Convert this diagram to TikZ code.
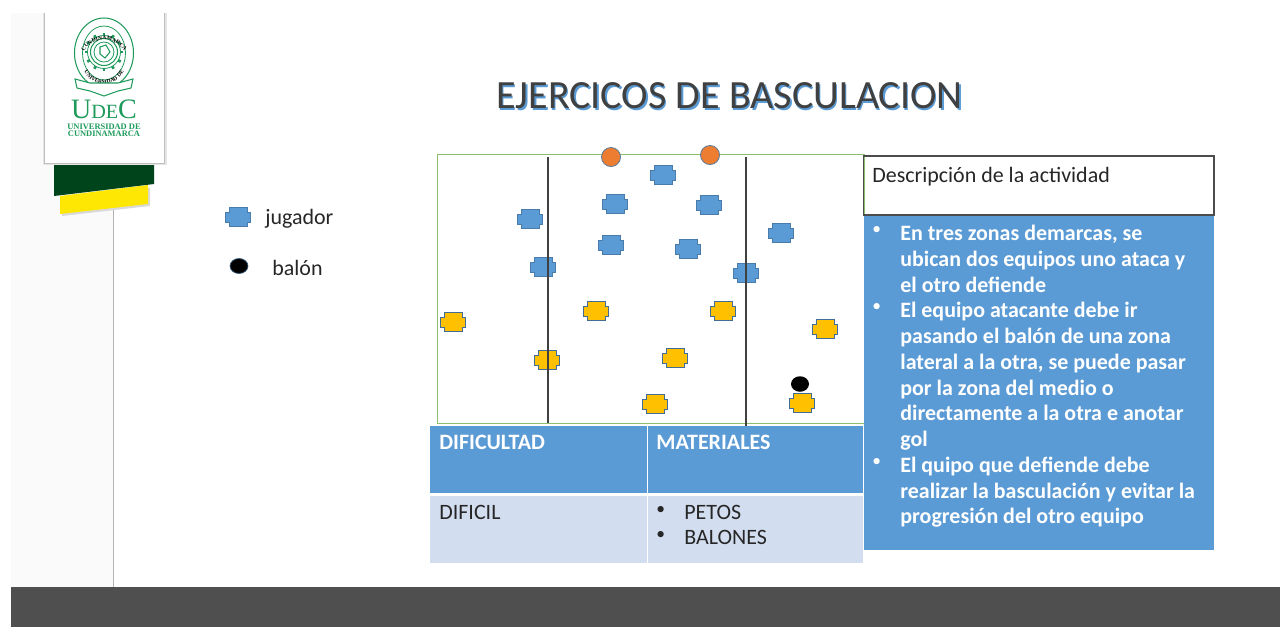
\documentclass[tikz,border=0pt]{standalone}
\usepackage{fontspec}
\setmainfont{Carlito}
\newfontfamily\logofont{Liberation Serif}
\usetikzlibrary{decorations.text,shapes.geometric}
\definecolor{azul}{HTML}{5B9BD5}
\definecolor{azulclaro}{HTML}{D2DEEF}
\definecolor{amarillo}{HTML}{FFC000}
\definecolor{naranja}{HTML}{ED7D31}
\definecolor{verdelogo}{HTML}{1E9A5A}
\definecolor{verdeoscuro}{HTML}{00441C}
\definecolor{verdecampo}{HTML}{8CBF6A}
\tikzset{
    ficha/.pic={\path[pic actions] (-12.5,-5) -- (-9,-5) -- (-9,-9.5) -- (9,-9.5) -- (9,-5) -- (12.5,-5) -- (12.5,5) -- (9,5) -- (9,9.5) -- (-9,9.5) -- (-9,5) -- (-12.5,5) -- cycle;},
    fichaazul/.style={fill=azul,draw=azul!80!black,line width=0.3pt},
    fichaamarilla/.style={fill=amarillo,draw=azul!70!black,line width=0.3pt},
    portero/.style={circle,fill=naranja,draw=azul!60!black!80,line width=0.5pt,minimum size=19*0.02cm,inner sep=0pt},
    texto/.style={anchor=west,inner sep=0pt,font=\fontsize{12.5}{14}\selectfont,text=black!85},
    titulotabla/.style={anchor=north west,inner sep=0pt,font=\fontsize{12.5}{14}\selectfont\bfseries,text=white},
    celda/.style={anchor=north west,inner sep=0pt,font=\fontsize{12.5}{14.2}\selectfont,text=black!85,align=left},
    marca/.style={anchor=north west,inner sep=0pt,align=left,font=\fontsize{10}{14.65}\selectfont},
    zona/.style={line width=0.6pt,black!75},
}
\begin{document}
\begin{tikzpicture}[x=0.02cm,y=-0.02cm]
    \useasboundingbox (0,0) rectangle (1280,627);
    % background
    \fill[black!2] (11,13) rectangle (113,587);
    \draw[black!30,line width=0.5pt] (113.5,205) -- (113.5,587);
    \fill[black!69] (11,587) rectangle (1280,627);
    % ribbons of the logo
    \fill[black!15] (62,198) -- (150,188) -- (150,206) -- (62,216) -- cycle;
    \fill[yellow!90!orange] (60,196) -- (148,185) -- (148,204) -- (60,214) -- cycle;
    \fill[verdeoscuro] (54,163) -- (154,163) -- (154,184) -- (54,196) -- cycle;
    % white card of the logo
    \fill[black!10] (42.5,13) rectangle (166.5,165);
    \fill[black!25] (44,13) rectangle (165,163.5);
    \fill[white] (45,13) rectangle (164,162.5);
    % seal
    \begin{scope}[verdelogo,line width=0.45pt]
        \draw[line width=0.6pt] (104,53) ellipse (29.5 and 35);
        \draw (104,53) ellipse (21.5 and 27);
        \draw[line width=0.6pt] (104,52) circle (13.5);
        \draw (104,52) circle (10);
        \draw (104,52) circle (16.5);
        \foreach \ang in {0,30,...,330}
            \draw[line width=1.5pt] (104,52) ++(\ang:16.5) -- ++(\ang:2.8);
        \draw[line width=0.6pt] (100,47) -- (106,45) -- (110,52) -- (105,58) -- (100,54) -- cycle;
        \path[decorate,decoration={text along path,text align=center,
            text={|\logofont\fontsize{3.2}{3.4}\selectfont\bfseries|UNIVERSIDAD DE}}]
            (79,53) arc[start angle=180,end angle=0,x radius=25,y radius=31];
        \path[decorate,decoration={text along path,text align=center,
            text={|\logofont\fontsize{3.2}{3.4}\selectfont\bfseries|CUNDINAMARCA}}]
            (81,62) arc[start angle=180,end angle=360,x radius=23,y radius=22];
        \filldraw[fill=white,line width=0.6pt] (75,79) -- (90,83) -- (118,83) -- (133,79) -- (131,88) -- (118,91) -- (104,96) -- (90,91) -- (77,88) -- cycle;
    \end{scope}
    \node[inner sep=0pt,text=verdelogo,font=\logofont\fontsize{16}{17}\selectfont] (udec) at (104,109.5) {U{\fontsize{11.5}{12}\selectfont DE}C};
    \node[inner sep=0pt,text=verdelogo,align=center,font=\logofont\fontsize{4.8}{4.1}\selectfont\bfseries] (nombre) at (104,130.5) {UNIVERSIDAD DE\\CUNDINAMARCA};
    % title
    \node[inner sep=0pt,text=azul,font=\fontsize{22.8}{26}\selectfont] (sombra) at (731,97.5) {EJERCICOS DE BASCULACION};
    \node[inner sep=0pt,text=black!75,font=\fontsize{22.8}{26}\selectfont] (titulo) at (729.5,96) {EJERCICOS DE BASCULACION};
    % legend
    \pic[fichaazul] at (238,217) {ficha};
    \node[texto] (jugador) at (265,218.5) {jugador};
    \node[ellipse,fill=black,draw=azul!60!black,line width=0.4pt,minimum width=18*0.02cm,minimum height=15*0.02cm,inner sep=0pt] (leyendabalon) at (239,266) {};
    \node[texto] (balon) at (272,267.5) {balón};
    % field
    \draw[verdecampo,line width=0.5pt] (437,154) rectangle (864,423);
    % players
    \foreach \px/\py in {663/175,615/204,709/205,530/219,781/233,611/245,688/249,543/267,746/273}
        \pic[fichaazul] at (\px,\py) {ficha};
    \foreach \px/\py in {453/322,596/311,723/311,825/329,547/360,675/358,655/404,802/403}
        \pic[fichaamarilla] at (\px,\py) {ficha};
    \node[portero] (portero1) at (611,157) {};
    \node[portero] (portero2) at (710,155) {};
    \node[ellipse,fill=black,minimum width=18*0.02cm,minimum height=15.5*0.02cm,inner sep=0pt] (pelota) at (800,384) {};
    % lines of the zones
    \coordinate (z1a) at (548,157);
    \coordinate (z1b) at (548,423);
    \coordinate (z2a) at (746,157);
    \coordinate (z2b) at (746,426);
    \draw[zona] (z1a) -- (z1b);
    \draw[zona] (z2a) -- (z2b);
    % table
    \fill[azul] (430,426) rectangle (646.5,493);
    \fill[azul] (648,426) rectangle (863,493);
    \fill[azulclaro] (430,495.5) rectangle (646.5,563);
    \fill[azulclaro] (648,495.5) rectangle (863,563);
    \node[titulotabla] (dificultad) at (439,435) {DIFICULTAD};
    \node[titulotabla] (materiales) at (656,435) {MATERIALES};
    \node[celda] (dificil) at (439,505) {DIFICIL};
    \node[marca,text=black!85,font=\fontsize{10}{14.2}\selectfont] (marcas) at (656,506) {•\\•};
    \node[celda] (lista) at (684,505) {PETOS\\BALONES};
    % description
    \fill[azul] (864,215) rectangle (1214,550);
    \draw[black!70,line width=0.6pt] (863.5,156) rectangle (1214,215);
    \node[anchor=north west,inner sep=0pt,font=\fontsize{12.5}{14}\selectfont,text=black!85] (descripcion) at (872,167) {Descripción de la actividad};
    \node[anchor=north west,inner sep=0pt,align=left,text=white,font=\fontsize{12.5}{14.65}\selectfont\bfseries] (puntos) at (900,225) {En tres zonas demarcas, se\\ubican dos equipos uno ataca y\\el otro defiende\\El equipo atacante debe ir\\pasando el balón de una zona\\lateral a la otra, se puede pasar\\por la zona del medio o\\directamente a la otra e anotar\\gol\\El quipo que defiende debe\\realizar la basculación y evitar la\\progresión del otro equipo};
    \node[marca,text=white] (bullets) at (872,226) {•\\\\\\•\\\\\\\\\\\\•};
\end{tikzpicture}
\end{document}
